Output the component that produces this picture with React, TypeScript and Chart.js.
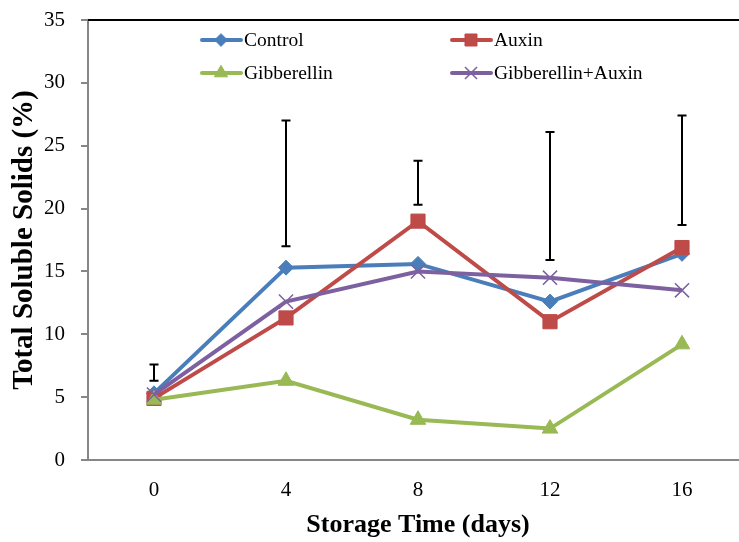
import React, { useEffect, useRef } from 'react';
import { Chart, registerables } from 'chart.js';
import { drawPoint } from 'chart.js/helpers';

Chart.register(...registerables);

const days = ['0', '4', '8', '12', '16'];
const control = [5.3, 15.3, 15.6, 12.6, 16.4];
const auxin = [4.9, 11.3, 19.0, 11.0, 16.9];
const gibberellin = [4.8, 6.3, 3.2, 2.5, 9.2];
const gibAuxin = [5.2, 12.6, 15.0, 14.5, 13.5];
const errLow = [6.3, 17.0, 20.3, 15.9, 18.7];
const errHigh = [7.6, 27.0, 23.8, 26.1, 27.4];

const FONT = "'Liberation Serif', 'Times New Roman', serif";

const legendPos = [
  [200, 40],
  [450, 40],
  [200, 73],
  [450, 73],
];

const overlay = {
  id: 'overlay',
  afterDatasetsDraw(chart: any) {
    const { ctx, chartArea, scales } = chart;
    const x = scales.x;
    const y = scales.y;
    ctx.save();
    // top border
    ctx.strokeStyle = '#000';
    ctx.lineWidth = 2;
    ctx.beginPath();
    ctx.moveTo(chartArea.left, chartArea.top);
    ctx.lineTo(chartArea.right, chartArea.top);
    ctx.stroke();
    // error bars
    ctx.lineWidth = 2;
    errLow.forEach((lo, i) => {
      const px = Math.round(x.getPixelForValue(i));
      const y1 = y.getPixelForValue(lo);
      const y2 = y.getPixelForValue(errHigh[i]);
      ctx.beginPath();
      ctx.moveTo(px, y1);
      ctx.lineTo(px, y2);
      ctx.moveTo(px - 4.5, y1);
      ctx.lineTo(px + 4.5, y1);
      ctx.moveTo(px - 4.5, y2);
      ctx.lineTo(px + 4.5, y2);
      ctx.stroke();
    });
    // legend
    chart.data.datasets.forEach((ds: any, i: number) => {
      const [lx, ly] = legendPos[i];
      ctx.strokeStyle = ds.borderColor;
      ctx.fillStyle = ds.borderColor;
      ctx.lineWidth = 4;
      ctx.lineCap = 'round';
      ctx.beginPath();
      ctx.moveTo(lx + 2, ly);
      ctx.lineTo(lx + 41, ly);
      ctx.stroke();
      ctx.lineCap = 'butt';
      ctx.lineWidth = ds.pointBorderWidth;
      drawPoint(ctx, {
        pointStyle: ds.pointStyle,
        radius: ds.pointRadius * 0.85,
        borderWidth: ds.pointBorderWidth,
        rotation: 0,
      } as any, lx + 21, ly);
      ctx.fillStyle = '#000';
      ctx.font = `19.5px ${FONT}`;
      ctx.textBaseline = 'middle';
      ctx.textAlign = 'left';
      ctx.fillText(ds.label, lx + 44, ly + 1);
    });
    ctx.restore();
  },
};

export default function App() {
  const ref = useRef<HTMLCanvasElement | null>(null);
  useEffect(() => {
    if (!ref.current) return;
    const mk = (label: string, data: number[], color: string, style: string, r: number, order: number, bw = 1) => ({
      label,
      data,
      borderColor: color,
      backgroundColor: color,
      pointBackgroundColor: color,
      pointBorderColor: color,
      borderWidth: 4,
      pointStyle: style,
      pointRadius: r,
      pointBorderWidth: bw,
      order,
      tension: 0,
    });
    const chart = new Chart(ref.current, {
      type: 'line',
      data: {
        labels: days,
        datasets: [
          mk('Control', control, '#4A7EBB', 'rectRot', 7.5, 4),
          mk('Auxin', auxin, '#BE4B48', 'rect', 10, 3),
          mk('Gibberellin', gibberellin, '#98B954', 'triangle', 9, 2),
          mk('Gibberellin+Auxin', gibAuxin, '#7D60A0', 'crossRot', 10, 1, 1.5),
        ] as any,
      },
      options: {
        responsive: false,
        animation: false,
        layout: { padding: { left: 0, top: 20, right: 12, bottom: 0 } },
        plugins: { legend: { display: false }, tooltip: { enabled: false } },
        scales: {
          x: {
            type: 'category',
            offset: true,
            grid: { display: true, drawOnChartArea: false, drawTicks: false, color: '#868686' },
            border: { color: '#868686', width: 2 },
            ticks: { color: '#000', font: { family: FONT, size: 21 }, padding: 18 },
            title: {
              display: true,
              text: 'Storage Time (days)',
              color: '#000',
              font: { family: FONT, size: 26, weight: 'bold' },
              padding: { top: 0, bottom: 1 },
            },
            afterFit(scale: any) {
              scale.height = 82;
              scale.paddingLeft = 0;
              scale.paddingRight = 0;
            },
          },
          y: {
            type: 'linear',
            min: 0,
            max: 35,
            ticks: { stepSize: 5, color: '#000', font: { family: FONT, size: 21 }, padding: 16 },
            grid: { drawOnChartArea: false, drawTicks: true, tickLength: 7, color: '#868686', lineWidth: 2 },
            border: { color: '#868686', width: 2 },
            title: {
              display: true,
              text: 'Total Soluble Solids (%)',
              color: '#000',
              font: { family: FONT, size: 29, weight: 'bold' },
              padding: { top: 7, bottom: 0 },
            },
            afterFit(scale: any) {
              scale.width = 88;
              scale.paddingTop = 0;
              scale.paddingBottom = 0;
            },
          },
        },
      },
      plugins: [overlay],
    });
    return () => chart.destroy();
  }, []);
  return (
    <div style={{ position: 'fixed', left: 0, top: 0, width: 739, height: 542, overflow: 'hidden', background: '#fff' }}>
      <canvas ref={ref} width={760} height={542} style={{ display: 'block' }} />
    </div>
  );
}
